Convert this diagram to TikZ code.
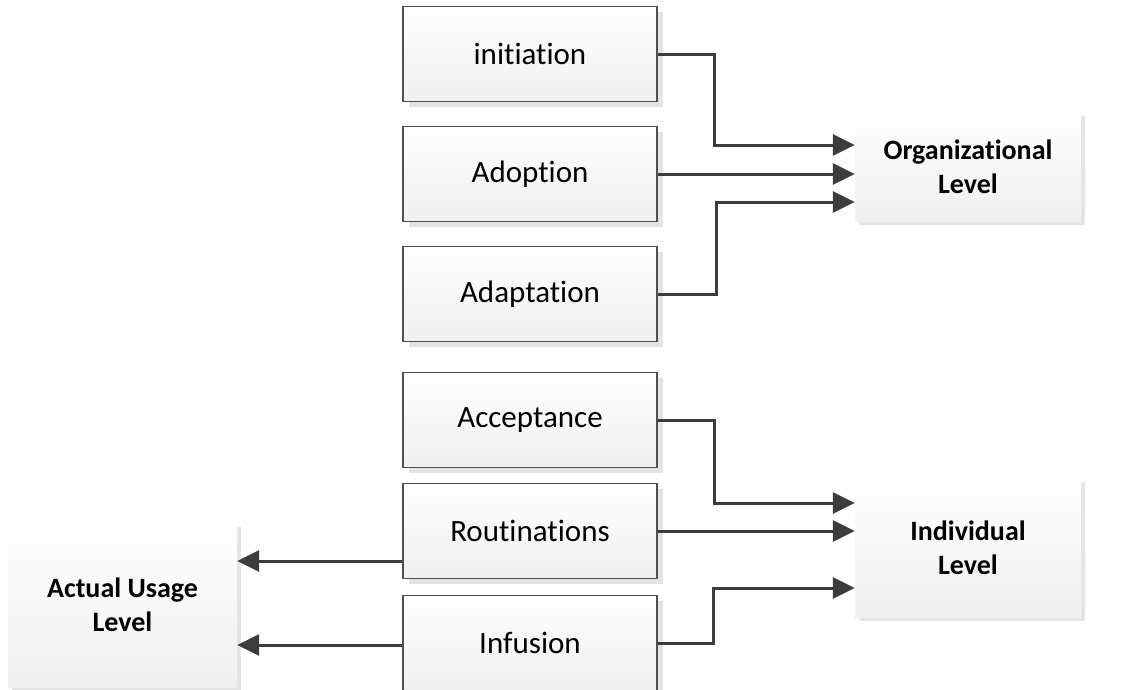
\documentclass[tikz,border=0pt]{standalone}
\usepackage{fontspec}
\setmainfont{Carlito}[Ligatures=NoCommon]
\usetikzlibrary{arrows.meta,shadows,calc}

\definecolor{edgegray}{HTML}{505050}
\definecolor{arrowgray}{HTML}{3C3C3C}
\definecolor{shadowgray}{HTML}{E4E4E4}
\definecolor{fillbottom}{HTML}{EFEFEF}

\tikzset{
  stagebox/.style={
    draw=edgegray, line width=1.1pt,
    shading=axis, top color=white, bottom color=fillbottom,
    minimum width=254pt, minimum height=95pt, inner sep=0pt,
    font=\fontsize{31}{37}\selectfont,
    drop shadow={fill=shadowgray, draw=none, opacity=1,
                 shadow xshift=6pt, shadow yshift=-5pt}
  },
  levelbox/.style={
    draw=none,
    shading=axis, top color=white, bottom color=fillbottom,
    inner sep=0pt, align=center,
    font=\fontsize{28}{34}\selectfont\bfseries,
    drop shadow={fill=shadowgray, draw=none, opacity=1,
                 shadow xshift=4pt, shadow yshift=-4pt}
  },
  link/.style={
    draw=arrowgray, line width=3pt,
    -{Triangle[length=22pt,width=21pt]}
  }
}

\begin{document}
\begin{tikzpicture}[x=1pt,y=-1pt]
\useasboundingbox (0,0) rectangle (1128,689);

% process stages
\node[stagebox] (init) at (530,54)  {initiation};
\node[stagebox] (adop) at (530,174) {Adoption};
\node[stagebox] (adap) at (530,294) {Adaptation};
\node[stagebox] (acce) at (530,420) {Acceptance};
\node[stagebox] (rout) at (530,531) {Routinations};
\node[stagebox] (infu) at (530,643) {Infusion};

% levels
\node[levelbox, minimum width=226pt, minimum height=109pt] (org) at (968,166.5)
  {Organizational\\Level};
\node[levelbox, minimum width=226pt, minimum height=139pt] (ind) at (968,547.5)
  {Individual\\Level};
\node[levelbox, minimum width=229pt, minimum height=164pt] (act) at (122.5,605)
  {Actual Usage\\Level};

% organizational level connectors
\draw[link] (init.east) -- ++(57,0) |- ([yshift=21.5pt]org.west);
\draw[link] (adop.east) -- (adop.east -| org.west);
\draw[link] (adap.east) -- ++(59,0) |- ([yshift=-35.5pt]org.west);

% individual level connectors
\draw[link] (acce.east) -- ++(57,0) |- ([yshift=44.5pt]ind.west);
\draw[link] (rout.east) -- (rout.east -| ind.west);
\draw[link] (infu.east) -- ++(56,0) |- ([yshift=-40.5pt]ind.west);

% actual usage connectors
\coordinate (r1) at ([yshift=-30pt]rout.west);
\coordinate (i1) at ([yshift=-2pt]infu.west);
\draw[link] (r1) -- (r1 -| act.east);
\draw[link] (i1) -- (i1 -| act.east);
\end{tikzpicture}
\end{document}
